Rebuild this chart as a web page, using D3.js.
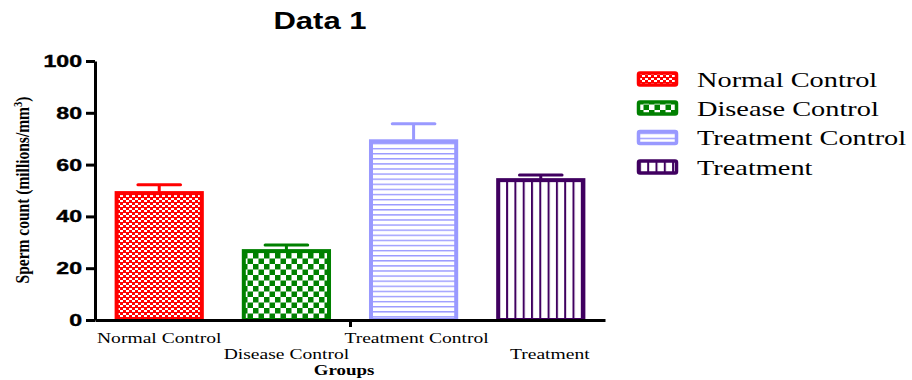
<!DOCTYPE html>
<html>
<head>
<meta charset="utf-8">
<script src="https://cdn.jsdelivr.net/npm/d3@7"></script>
<style>
  html, body { margin: 0; padding: 0; background: #fff; }
  svg { display: block; }
</style>
</head>
<body>
<svg id="chart" width="912" height="380"></svg>
<script>
// Group data: mean sperm count and error (millions/mm3)
const groups = ["Normal Control", "Disease Control", "Treatment Control", "Treatment"];
const means = [49, 26.6, 69, 54];
const errors = [3.2, 2.4, 6.8, 2.0];
const yTicks = [0, 20, 40, 60, 80, 100];
const colors = ["#ff0000", "#008000", "#9999ff", "#400060"];
const patternIds = ["pat-check-fine", "pat-check-coarse", "pat-hlines", "pat-vlines"];

const svg = d3.select("#chart");
const SX = 1.35; // horizontal stretch applied to the text

const x = d3.scaleBand().domain(groups).range([95, 605]).paddingInner(0.33).paddingOuter(0.17);
const y = d3.scaleLinear().domain([0, 100]).range([320, 61]);

// Fill patterns (whole-pixel cells so the squares stay crisp)
const defs = svg.append("defs");
{
  const p = defs.append("pattern").attr("id", patternIds[0]).attr("patternUnits", "userSpaceOnUse")
    .attr("width", 6).attr("height", 5);
  p.append("rect").attr("width", 6).attr("height", 5).attr("fill", colors[0]);
  p.append("rect").attr("x", 0).attr("y", 0).attr("width", 3).attr("height", 2).attr("fill", "#fff");
  p.append("rect").attr("x", 3).attr("y", 3).attr("width", 3).attr("height", 2).attr("fill", "#fff");
}
{
  const p = defs.append("pattern").attr("id", patternIds[1]).attr("patternUnits", "userSpaceOnUse")
    .attr("width", 11).attr("height", 11);
  p.append("rect").attr("width", 11).attr("height", 11).attr("fill", "#fff");
  p.append("rect").attr("x", 0).attr("y", 0).attr("width", 5.5).attr("height", 5.5).attr("fill", colors[1]);
  p.append("rect").attr("x", 5.5).attr("y", 5.5).attr("width", 5.5).attr("height", 5.5).attr("fill", colors[1]);
}
{
  const p = defs.append("pattern").attr("id", patternIds[2]).attr("patternUnits", "userSpaceOnUse")
    .attr("width", 10).attr("height", 5.1);
  p.append("rect").attr("width", 10).attr("height", 5.1).attr("fill", "#fff");
  p.append("rect").attr("y", 0).attr("width", 10).attr("height", 1.4).attr("fill", colors[2]);
}
{
  const p = defs.append("pattern").attr("id", patternIds[3]).attr("patternUnits", "userSpaceOnUse")
    .attr("width", 8.3).attr("height", 10).attr("x", 116);
  p.append("rect").attr("width", 8.3).attr("height", 10).attr("fill", "#fff");
  p.append("rect").attr("x", 0).attr("width", 2).attr("height", 10).attr("fill", colors[3]);
}

// Stretched text helper
function label(g, txt, px, py, opts) {
  const t = g.append("text")
    .attr("transform", `translate(${px},${py}) scale(${opts.sx || SX},1)${opts.rotate ? " rotate(" + opts.rotate + ")" : ""}`)
    .attr("text-anchor", opts.anchor || "middle")
    .attr("font-family", opts.family)
    .attr("font-size", opts.size)
    .attr("font-weight", opts.weight || "normal")
    .attr("fill", "#000")
    .text(txt);
  return t;
}

// Title
label(svg, "Data 1", 320, 29, { family: "Liberation Sans, Arial, sans-serif", size: 23, weight: "bold" });

// Bars
const bars = svg.append("g");
groups.forEach((g, i) => {
  bars.append("rect")
    .attr("x", x(g))
    .attr("y", y(means[i]))
    .attr("width", x.bandwidth())
    .attr("height", y(0) - y(means[i]))
    .attr("fill", `url(#${patternIds[i]})`)
    .attr("stroke", colors[i])
    .attr("stroke-width", 4);
});

// Error bars (upper)
const eb = svg.append("g");
groups.forEach((g, i) => {
  const cx = x(g) + x.bandwidth() / 2;
  const top = y(means[i] + errors[i]);
  eb.append("line").attr("x1", cx).attr("x2", cx).attr("y1", y(means[i])).attr("y2", top)
    .attr("stroke", colors[i]).attr("stroke-width", 3);
  eb.append("line").attr("x1", cx - x.bandwidth() / 4).attr("x2", cx + x.bandwidth() / 4)
    .attr("y1", top).attr("y2", top)
    .attr("stroke", colors[i]).attr("stroke-width", 3).attr("stroke-linecap", "round");
});

// Y axis
const yAxis = svg.append("g").attr("transform", "translate(95,0)")
  .call(d3.axisLeft(y).tickValues(yTicks).tickSize(9).tickSizeOuter(0).tickFormat(""));
yAxis.selectAll("path, line").attr("stroke", "#000").attr("stroke-width", 3);
yTicks.forEach(v => {
  label(svg, String(v), 82, y(v) + 6, { family: "Liberation Sans, Arial, sans-serif", size: 16.5, weight: "bold", anchor: "end", sx: 1.4 })
    .attr("stroke", "#000").attr("stroke-width", 0.4);
});

// X axis: baseline with a single centre tick
const xMid = d3.scaleLinear().domain([0, 1]).range([95, 605]);
const xAxis = svg.append("g").attr("transform", "translate(0,320)")
  .call(d3.axisBottom(xMid).tickValues([0.5]).tickSize(7).tickSizeOuter(0).tickFormat(""));
xAxis.selectAll("path, line").attr("stroke", "#000").attr("stroke-width", 3);

// Category labels, staggered
const labelRows = [343, 359, 343, 359];
const labelShift = [0, 0, 3, 9];
groups.forEach((g, i) => {
  label(svg, g, x(g) + x.bandwidth() / 2 + labelShift[i], labelRows[i],
    { family: "Liberation Serif, Times New Roman, serif", size: 14.5 });
});

// Axis titles
label(svg, "Groups", 344, 375, { family: "Liberation Serif, Times New Roman, serif", size: 14, weight: "bold" });
const yt = label(svg, "", 29, 190, { family: "Liberation Serif, Times New Roman, serif", size: 15.5, weight: "bold", rotate: -90, sx: 1.25 });
yt.append("tspan").text("Sperm count (millions/mm");
yt.append("tspan").attr("dy", -6).attr("font-size", 10.5).text("3");
yt.append("tspan").attr("dy", 6).text(")");

// Legend
const legend = svg.append("g");
const legendRows = [79, 108, 137.5, 167];
groups.forEach((g, i) => {
  legend.append("rect")
    .attr("x", 638.5).attr("y", legendRows[i] - 6)
    .attr("width", 38).attr("height", 12).attr("rx", 1.5)
    .attr("fill", `url(#${patternIds[i]})`)
    .attr("stroke", colors[i]).attr("stroke-width", 3.5);
  label(legend, g, 697, legendRows[i] + 7.5, { family: "Liberation Serif, Times New Roman, serif", size: 21, anchor: "start" });
});
</script>
</body>
</html>
